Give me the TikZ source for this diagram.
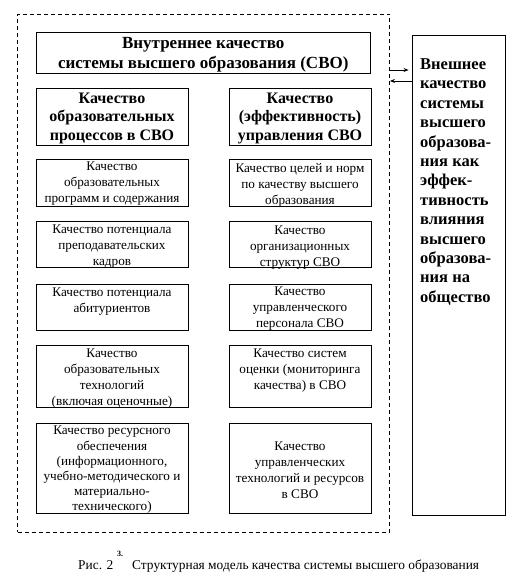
\documentclass[tikz,border=0pt]{standalone}
\usepackage{fontspec}
\setmainfont{Liberation Serif}
\usetikzlibrary{arrows.meta}
\begin{document}
\begin{tikzpicture}[x=1pt,y=-1pt,
  box/.style={draw, line width=0.9pt, inner sep=0pt},
  txt/.style={align=center, inner sep=0pt, font=\fontsize{13.2}{16}\selectfont},
  hdr/.style={align=center, inner sep=0pt, font=\bfseries\fontsize{16}{18.5}\selectfont},
  arr/.style={line width=0.8pt, -{Stealth[length=5pt,width=4pt]}}]
\useasboundingbox (0,0) rectangle (531,585);
% outer dashed frame
\node[draw, line width=0.8pt, dash pattern=on 4pt off 3pt, inner sep=0pt,
      minimum width=372pt, minimum height=518pt] (outer) at (203.5,273) {};
% title
\node[box, minimum width=334.5pt, minimum height=41pt] (title) at (203.25,52.5) {};
\node[align=center, inner sep=0pt, font=\bfseries\fontsize{17}{20}\selectfont] (titletxt) at (203.25,55)
  {Внутреннее качество\\системы высшего образования (СВО)};
% headers
\node[box, minimum width=152pt, minimum height=56.5pt] (hl) at (112,116.75) {};
\node[hdr] (hltxt) at (112,118) {Качество\\образовательных\\процессов в СВО};
\node[box, minimum width=142pt, minimum height=56.5pt] (hr) at (300,116.75) {};
\node[hdr] (hrtxt) at (300,118) {Качество\\(эффективность)\\управления СВО};
% left column
\node[box, minimum width=152pt, minimum height=47pt] (l1) at (112,182.5) {};
\node[txt] (l1t) at (112,184) {Качество\\образовательных\\программ и содержания};
\node[box, minimum width=152pt, minimum height=46pt] (l2) at (112,244) {};
\node[txt] (l2t) at (112,246.5) {Качество потенциала\\преподавательских\\кадров};
\node[box, minimum width=152pt, minimum height=46pt] (l3) at (112,307) {};
\node[txt] (l3t) at (112,302) {Качество потенциала\\абитуриентов};
\node[box, minimum width=152pt, minimum height=62pt] (l4) at (112,376) {};
\node[txt] (l4t) at (112,378.5) {Качество\\образовательных\\технологий\\(включая оценочные)};
\node[box, minimum width=152pt, minimum height=90pt] (l5) at (112,468) {};
\node[txt, font=\fontsize{13.2}{15.2}\selectfont] (l5t) at (112,470) {Качество ресурсного\\обеспечения\\(информационного,\\учебно-методического и\\материально-\\технического)};
% right column
\node[box, minimum width=142pt, minimum height=47pt] (r1) at (300,182.5) {};
\node[txt] (r1t) at (300,185) {Качество целей и норм\\по качеству высшего\\образования};
\node[box, minimum width=142pt, minimum height=46pt] (r2) at (300,244) {};
\node[txt] (r2t) at (300,247.5) {Качество\\организационных\\структур СВО};
\node[box, minimum width=142pt, minimum height=46pt] (r3) at (300,307) {};
\node[txt] (r3t) at (300,308.5) {Качество\\управленческого\\персонала СВО};
\node[box, minimum width=142pt, minimum height=62pt] (r4) at (300,376) {};
\node[txt] (r4t) at (300,371) {Качество систем\\оценки (мониторинга\\качества) в СВО};
\node[box, minimum width=142pt, minimum height=90pt] (r5) at (300,468) {};
\node[txt] (r5t) at (300,470.5) {Качество\\управленческих\\технологий и ресурсов\\в СВО};
% external quality
\node[box, minimum width=93pt, minimum height=480pt] (ext) at (458.5,275) {};
\node[align=left, anchor=west, inner sep=0pt, font=\bfseries\fontsize{16.5}{19.4}\selectfont] (extt) at (420,182)
  {Внешнее\\качество\\системы\\высшего\\образова-\\ния как\\эффек-\\тивность\\влияния\\высшего\\образова-\\ния на\\общество};
% arrows
\coordinate (ya) at (0,70);
\coordinate (yb) at (0,81);
\draw[arr] (outer.east |- ya) -- ([xshift=-3pt]ext.west |- ya);
\draw[arr] (ext.west |- yb) -- (outer.east |- yb);
% caption
\node[anchor=base west, inner sep=0pt, font=\fontsize{13.4}{15}\selectfont] (capa) at (78,569) {Рис. 2};
\node[anchor=base west, inner sep=0pt, font=\bfseries\fontsize{8}{9}\selectfont] (capn) at (117,556) {3.};
\node[anchor=base west, inner sep=0pt, font=\fontsize{13.4}{15}\selectfont] (capb) at (132,569) {Структурная модель качества системы высшего образования};
\end{tikzpicture}
\end{document}
